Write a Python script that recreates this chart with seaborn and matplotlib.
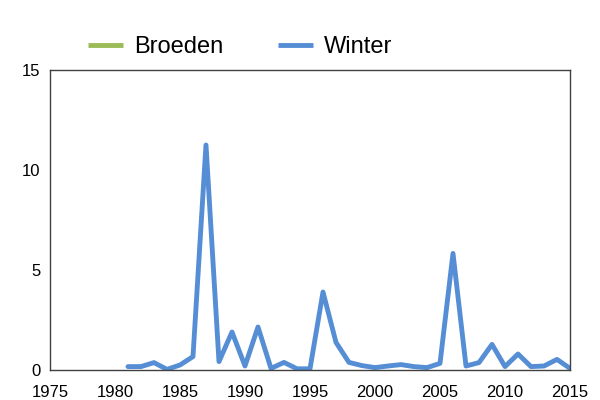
import matplotlib
matplotlib.use("Agg")
import matplotlib.pyplot as plt
import seaborn as sns
import pandas as pd
import numpy as np

years = list(range(1981, 2016))
winter = [0.17, 0.17, 0.37, 0.03, 0.25, 0.67, 11.25, 0.42, 1.9, 0.2,
          2.15, 0.08, 0.38, 0.06, 0.06, 3.9, 1.38, 0.38, 0.22, 0.12,
          0.2, 0.27, 0.17, 0.12, 0.33, 5.83, 0.2, 0.37, 1.28, 0.17,
          0.8, 0.17, 0.2, 0.53, 0.08]
broeden = [np.nan] * len(years)  # no breeding values shown

series_names = ["Broeden", "Winter"]
colors = {"Broeden": "#9BBB59", "Winter": "#558ED5"}
x_ticks = list(range(1975, 2016, 5))
y_ticks = [0, 5, 10, 15]

df = pd.DataFrame({
    "jaar": years * 2,
    "waarde": broeden + winter,
    "reeks": ["Broeden"] * len(years) + ["Winter"] * len(years),
})

sns.set_style("white")
plt.rcParams["font.family"] = ["Liberation Sans", "DejaVu Sans"]
plt.rcParams["text.color"] = "black"

fig = plt.figure(figsize=(6, 4), dpi=100)
ax = fig.add_axes([0.0833, 0.075, 0.8667, 0.75])

sns.lineplot(data=df, x="jaar", y="waarde", hue="reeks", hue_order=series_names,
             palette=colors, linewidth=3.5, ax=ax, legend=False)

for name in series_names:
    ax.plot([], [], color=colors[name], linewidth=3.5, solid_capstyle="butt", label=name)

ax.set_xlim(1975, 2015)
ax.set_ylim(0, 15)
ax.set_xticks(x_ticks)
ax.set_yticks(y_ticks)
ax.set_xlabel("")
ax.set_ylabel("")
ax.tick_params(axis="both", length=0, labelsize=12, colors="black")
ax.tick_params(axis="x", pad=10.5)
ax.tick_params(axis="y", pad=7)
for s in ax.spines.values():
    s.set_color("#404040")
    s.set_linewidth(1.0)
    s.set_visible(True)

leg = fig.legend(loc="center", bbox_to_anchor=(0.4, 0.8825), ncol=2, frameon=False,
                 fontsize=17, handlelength=1.48, handletextpad=0.47, columnspacing=2.33)
for t in leg.get_texts():
    t.set_color("black")

fig.savefig("out.png", dpi=100)
